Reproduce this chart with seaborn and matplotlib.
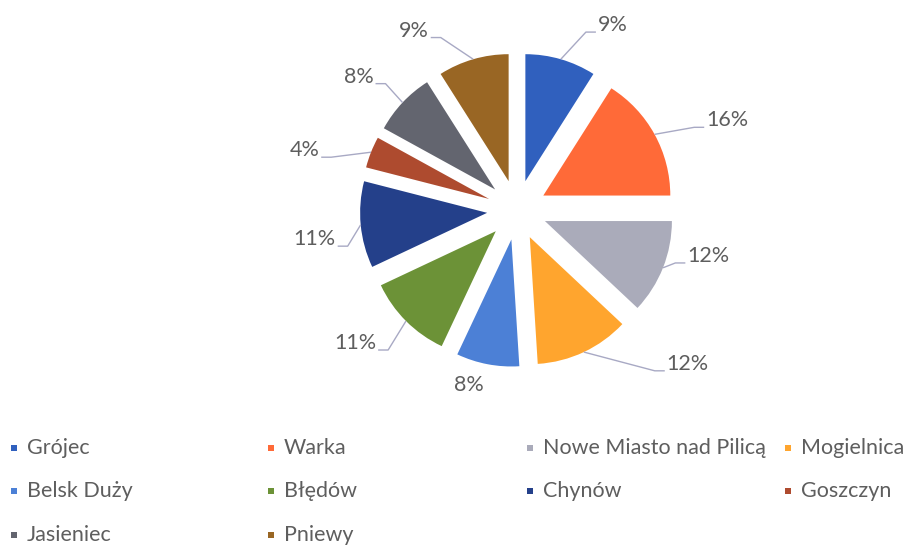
import matplotlib
matplotlib.use("Agg")
import matplotlib.pyplot as plt
import seaborn as sns
import numpy as np

# ---- data ----
categories = ["Grójec", "Warka", "Nowe Miasto nad Pilicą", "Mogielnica",
              "Belsk Duży", "Błędów", "Chynów", "Goszczyn", "Jasieniec", "Pniewy"]
shares = [9, 16, 12, 12, 8, 11, 11, 4, 8, 9]

# ---- style ----
colors = ["#3060BE", "#FF6A38", "#AAABBA", "#FFA52E", "#4C80D6",
          "#6C9237", "#24408A", "#AE4B2F", "#63656F", "#996624"]
# label placement (angle clockwise from 12 o'clock, distance in radii)
label_ang = [27.4, 66.9, 103.5, 132.0, 195.3, 230.6, 261.8, 285.7, 310.1, 330.1]
label_rad = [1.64, 1.80, 1.55, 1.81, 1.43, 1.65, 1.61, 1.74, 1.63, 1.63]
show_leader = [True, True, True, True, False, True, True, True, True, True]
TEXT_C = "#5E5E5E"
LEADER_C = "#A8A9C4"

sns.set_theme(style="white")
plt.rcParams["font.family"] = ["Lato", "DejaVu Sans"]

W, H = 910, 549
fig = plt.figure(figsize=(W / 100, H / 100), dpi=100)
fig.patch.set_facecolor("white")

R_PX = 127.0
cx, cy = 517, 210
half_w, half_h = 290, 210
ax = fig.add_axes([(cx - half_w) / W, (H - cy - half_h) / H, 2 * half_w / W, 2 * half_h / H])
EXPLODE = 30 / R_PX
wedges, _ = ax.pie(shares, colors=colors, startangle=90, counterclock=False,
                   explode=[EXPLODE] * len(shares), radius=1,
                   wedgeprops=dict(linewidth=0))
ax.set_xlim(-half_w / R_PX, half_w / R_PX)
ax.set_ylim(-half_h / R_PX, half_h / R_PX)
ax.set_aspect("equal")
ax.axis("off")

FS = 15.5
texts = []
cum = 0
anchors = []
for v, la, lr in zip(shares, label_ang, label_rad):
    mid = (cum + v / 2) / sum(shares) * 360
    cum += v
    th = np.deg2rad(mid)
    anchors.append(((1 + EXPLODE) * np.sin(th), (1 + EXPLODE) * np.cos(th)))
    tl = np.deg2rad(la)
    t = ax.text(lr * np.sin(tl), lr * np.cos(tl), f"{v}%", ha="center", va="center",
                fontsize=FS, color=TEXT_C)
    texts.append(t)

fig.canvas.draw()
rend = fig.canvas.get_renderer()
inv = ax.transData.inverted()
for t, (axx, ayy), show in zip(texts, anchors, show_leader):
    if not show:
        continue
    bb = t.get_window_extent(rend).transformed(inv)
    tx, ty = t.get_position()
    yl = ty - 7 / R_PX
    if tx > axx:
        edge = bb.x0 - 2 / R_PX
        elbow = edge - 10 / R_PX
    else:
        edge = bb.x1 + 2 / R_PX
        elbow = edge + 10 / R_PX
    ax.plot([axx, elbow, edge], [ayy, yl, yl], color=LEADER_C, lw=1.0,
            solid_capstyle="butt", clip_on=False)

# ---- legend (4 columns grid) ----
lax = fig.add_axes([0, 0, 1, 1], facecolor="none")
lax.set_xlim(0, W)
lax.set_ylim(H, 0)
lax.axis("off")
col_x = [14, 271, 530, 788]
row_y = [448, 491, 535]
for i, (name, c) in enumerate(zip(categories, colors)):
    r, k = divmod(i, 4)
    lax.scatter([col_x[k]], [row_y[r]], marker="s", s=20, color=c, linewidths=0)
    lax.text(col_x[k] + 13, row_y[r], name, ha="left", va="center",
             fontsize=FS, color=TEXT_C)

fig.savefig("out.png", dpi=100, facecolor="white")
